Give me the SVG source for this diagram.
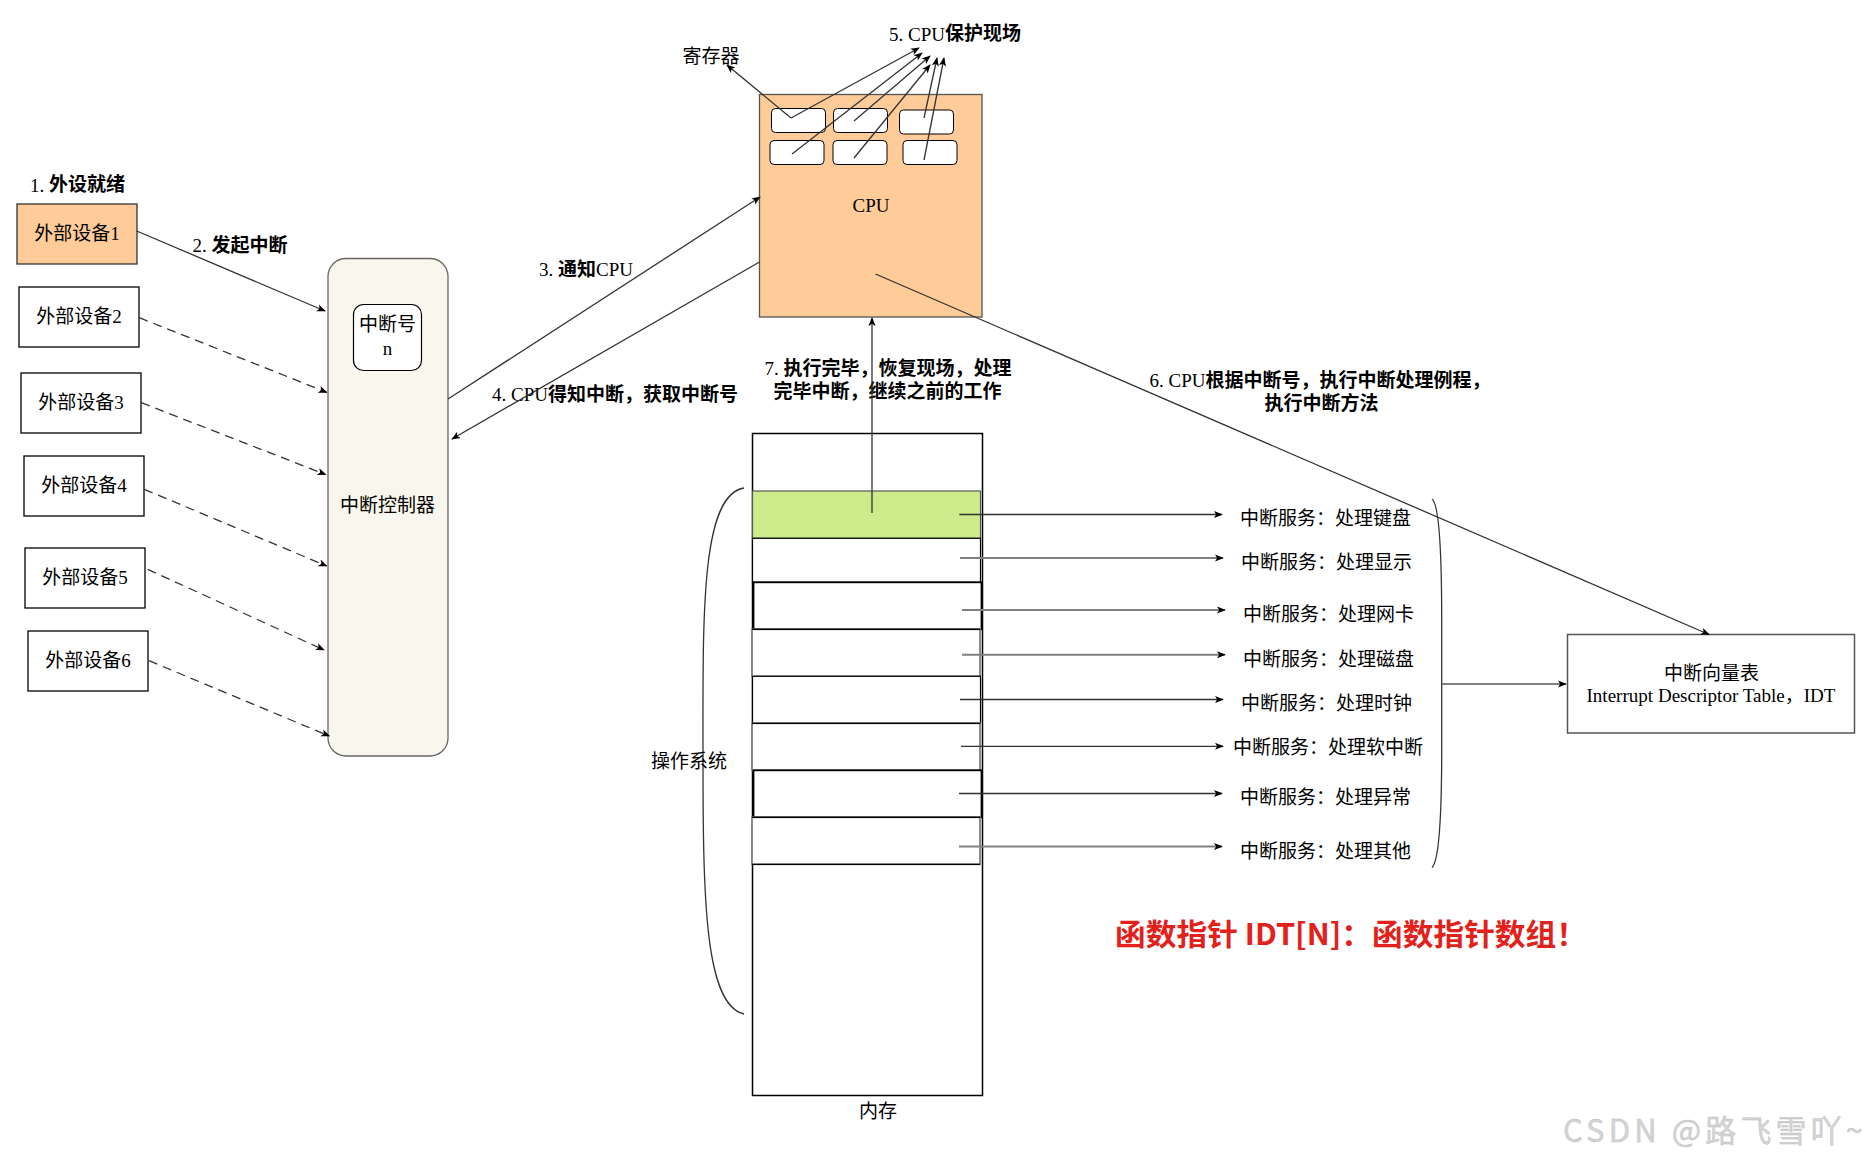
<svg xmlns="http://www.w3.org/2000/svg" width="1870" height="1161" viewBox="0 0 1870 1161">
<style>
.t{font-family:"Liberation Serif","Noto Sans CJK SC",serif;font-size:19px;fill:#000;dominant-baseline:central}
.m{text-anchor:middle}
.b{font-weight:bold}
.n{font-weight:normal}
.box{fill:#fff;stroke:#000;stroke-width:1.3}
.reg{fill:#fff;stroke:#000;stroke-width:1}
.ln{fill:none;stroke:#333;stroke-width:1.3;marker-end:url(#ah)}
.dash{stroke-dasharray:9 6}
.gr{stroke:#808080;stroke-width:2}
</style>
<defs>
<marker id="ah" viewBox="0 0 10 10" refX="9" refY="5" markerWidth="9" markerHeight="9" markerUnits="userSpaceOnUse" orient="auto"><path d="M0,1 L10,5 L0,9 L2.5,5 z" fill="#000"/></marker>
</defs>
<rect width="1870" height="1161" fill="#fff"/>

<g id="label-1"><text class="t b" x="30" y="184.5"><tspan class="n">1. </tspan>外设就绪</text></g>
<g id="dev1"><rect x="17" y="204" width="120" height="60" fill="#FFCC99" stroke="#333" stroke-width="1.3"/><text class="t m" x="77" y="233.5">外部设备1</text></g>
<g id="dev2"><rect class="box" x="19" y="287" width="120" height="60"/><text class="t m" x="79" y="316.5">外部设备2</text></g>
<g id="dev3"><rect class="box" x="21" y="373" width="120" height="60"/><text class="t m" x="81" y="402.5">外部设备3</text></g>
<g id="dev4"><rect class="box" x="24" y="456" width="120" height="60"/><text class="t m" x="84" y="485.5">外部设备4</text></g>
<g id="dev5"><rect class="box" x="25" y="548" width="120" height="60"/><text class="t m" x="85" y="577.5">外部设备5</text></g>
<g id="dev6"><rect class="box" x="28" y="631" width="120" height="60"/><text class="t m" x="88" y="660.5">外部设备6</text></g>
<g id="label-2"><text class="t b m" x="240" y="245"><tspan class="n">2. </tspan>发起中断</text></g>

<g id="controller"><rect x="328" y="258.5" width="120" height="497.5" rx="18" fill="#F9F7ED" stroke="#666" stroke-width="1.3"/><text class="t m" x="387.5" y="505">中断控制器</text></g>
<g id="irq-num"><rect x="353.5" y="304.5" width="68" height="66" rx="10" fill="#fff" stroke="#000" stroke-width="1.2"/><text class="t m" x="387.5" y="324">中断号</text><text class="t m" x="387.5" y="348">n</text></g>

<g id="label-3"><text class="t b m" x="586" y="269"><tspan class="n">3. </tspan>通知<tspan class="n">CPU</tspan></text></g>
<g id="label-4"><text class="t b m" x="615" y="394"><tspan class="n">4. CPU</tspan>得知中断，获取中断号</text></g>

<g id="cpu"><rect x="759.5" y="94.5" width="222.5" height="222.5" fill="#FFCC99" stroke="#555" stroke-width="1.3"/><text class="t m" x="871" y="205">CPU</text>
<rect class="reg" x="771.5" y="108.5" width="54" height="24" rx="4"/>
<rect class="reg" x="833.5" y="108.5" width="54" height="24" rx="4"/>
<rect class="reg" x="899.5" y="110" width="54" height="24" rx="4"/>
<rect class="reg" x="770" y="140.5" width="54" height="24" rx="4"/>
<rect class="reg" x="833" y="140.5" width="54" height="24" rx="4"/>
<rect class="reg" x="903" y="140.5" width="54" height="24" rx="4"/>
</g>
<g id="label-reg"><text class="t m" x="711" y="56.5">寄存器</text></g>
<g id="label-5"><text class="t b m" x="955" y="33.5"><tspan class="n">5. CPU</tspan>保护现场</text></g>
<g id="label-7"><text class="t b m" x="888" y="368"><tspan class="n">7. </tspan>执行完毕，恢复现场，处理</text><text class="t b m" x="887.5" y="391">完毕中断，继续之前的工作</text></g>
<g id="label-6"><text class="t b m" x="1320" y="380"><tspan class="n">6. CPU</tspan>根据中断号，执行中断处理例程，</text><text class="t b m" x="1321.5" y="403">执行中断方法</text></g>

<g id="memory">
<rect x="752.5" y="433.5" width="230" height="662" fill="#fff" stroke="#000" stroke-width="1.5"/>
<rect x="752.5" y="491" width="228" height="47.3" fill="#CDEB8B" stroke="#555" stroke-width="1.2"/>
<rect x="752.5" y="538.3" width="228" height="44" fill="#fff" stroke="#000" stroke-width="1.2"/>
<rect x="753.5" y="582.3" width="228" height="47" fill="#fff" stroke="#000" stroke-width="1.8"/>
<rect x="752" y="629.3" width="228" height="47" fill="#fff" stroke="#808080" stroke-width="1.8"/>
<line x1="752" y1="629.3" x2="980" y2="629.3" stroke="#000" stroke-width="1.3"/>
<rect x="752.5" y="676.3" width="228" height="47" fill="#fff" stroke="#000" stroke-width="1.2"/>
<rect x="752" y="723.3" width="228" height="47" fill="#fff" stroke="#808080" stroke-width="1.8"/>
<line x1="752" y1="723.3" x2="980" y2="723.3" stroke="#000" stroke-width="1.3"/>
<rect x="753.5" y="770.3" width="228" height="47" fill="#fff" stroke="#000" stroke-width="1.8"/>
<rect x="752" y="817.3" width="228" height="47" fill="#fff" stroke="#808080" stroke-width="1.8"/>
<line x1="752" y1="817.3" x2="980" y2="817.3" stroke="#000" stroke-width="1.3"/>
<line x1="752" y1="864.3" x2="980" y2="864.3" stroke="#000" stroke-width="1.3"/>
<text class="t m" x="878" y="1111.5">内存</text>
</g>
<g id="os-brace"><path d="M744 488 C700 495 703 620 703 760 C703 900 705 1005 744 1014" fill="none" stroke="#333" stroke-width="1.3"/><text class="t m" x="689" y="761.5">操作系统</text></g>

<g id="services">
<text class="t" x="1240" y="518">中断服务：处理键盘</text>
<text class="t" x="1241" y="562">中断服务：处理显示</text>
<text class="t" x="1243" y="614.5">中断服务：处理网卡</text>
<text class="t" x="1243" y="659">中断服务：处理磁盘</text>
<text class="t" x="1241" y="703">中断服务：处理时钟</text>
<text class="t" x="1233" y="747.5">中断服务：处理软中断</text>
<text class="t" x="1240" y="797">中断服务：处理异常</text>
<text class="t" x="1240" y="851">中断服务：处理其他</text>
</g>
<g id="svc-brace"><path d="M1432 499 C1440 505 1441.7 560 1441.7 620 L1441.7 750 C1441.7 810 1440 860 1432 867.5" fill="none" stroke="#333" stroke-width="1.3"/></g>

<g id="idt"><rect x="1567.5" y="634.5" width="287" height="98.5" fill="#fff" stroke="#555" stroke-width="1.5"/><text class="t m" x="1711.5" y="673">中断向量表</text><text class="t" x="1586.5" y="696" textLength="249" lengthAdjust="spacingAndGlyphs" style="font-size:18px">Interrupt Descriptor Table，IDT</text></g>

<g id="note"><text x="1115" y="932" textLength="472" lengthAdjust="spacingAndGlyphs" style="font-family:'Noto Sans CJK SC','Noto Sans',sans-serif;font-size:30px;font-weight:bold;fill:#E3211B;dominant-baseline:central">函数指针 IDT[N]：函数指针数组！</text></g>

<g id="connectors">
<path class="ln" d="M136.7 231 L325 311"/>
<path class="ln dash" d="M139.3 317.7 L326.7 392.3"/>
<path class="ln dash" d="M141.3 402.7 L325.6 474.5"/>
<path class="ln dash" d="M144.3 489.3 L326.7 566"/>
<path class="ln dash" d="M147.7 569.3 L324 650"/>
<path class="ln dash" d="M149 660.7 L329.3 736"/>
<path class="ln" d="M448 399 L760 197"/>
<path class="ln" d="M759.5 262 L452 439"/>
<path class="ln" d="M791 118 L727 65"/>
<path class="ln" d="M791 118 L919 48"/>
<path class="ln" d="M792 154 L922 53"/>
<path class="ln" d="M854 121 L930 56"/>
<path class="ln" d="M854 158 L930 65"/>
<path class="ln" d="M924 118 L937 58"/>
<path class="ln" d="M924 160 L944 58"/>
<path class="ln" d="M875.5 274 L1709 634.5"/>
<path class="ln" d="M872 513 L872 318"/>
<path class="ln" d="M959.3 514.5 L1222 514.5"/>
<path class="ln gr" d="M960 558 L1223 558"/>
<path class="ln gr" d="M962 610 L1225 610"/>
<path class="ln gr" d="M962 654.7 L1225 654.7"/>
<path class="ln" d="M960 699.5 L1223 699.5"/>
<path class="ln" d="M961 746.3 L1223 746.3"/>
<path class="ln" d="M959 793.5 L1222 793.5"/>
<path class="ln gr" d="M959 846.5 L1222 846.5"/>
<path class="ln gr" d="M1442 684 L1566 684"/>
</g>

<g id="watermark"><text x="1563" y="1128" textLength="300" lengthAdjust="spacing" style="font-family:'Noto Sans CJK SC','Noto Sans',sans-serif;font-size:31px;fill:#d4d4d4;dominant-baseline:central;stroke:#bdbdbd;stroke-width:0.4">CSDN @路飞雪吖~</text></g>
</svg>
